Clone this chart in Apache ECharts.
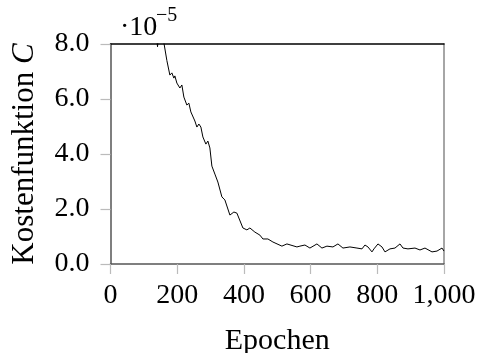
<!DOCTYPE html>
<html>
<head>
<meta charset="utf-8">
<script src="https://cdn.jsdelivr.net/npm/echarts@6/dist/echarts.min.js"></script>
<style>html,body{margin:0;padding:0;background:#fff}#c{width:477px;height:353px}</style>
</head>
<body>
<div id="c"></div>
<script>
// Epochs and cost values (in units of 1e-5)
const epochs = [0, 50, 100, 130, 138, 141, 144, 152, 160, 169, 178, 184, 190, 193, 199, 208, 214, 220, 229, 235, 241, 253, 259, 265, 271, 277, 286, 292, 298, 304, 313, 322, 334, 343, 358, 370, 379, 397, 409, 418, 433, 448, 457, 472, 487, 514, 529, 559, 568, 583, 598, 619, 634, 649, 667, 682, 697, 718, 739, 754, 763, 772, 784, 790, 802, 814, 823, 838, 853, 868, 877, 892, 913, 928, 943, 964, 979, 994, 1000];
const costs = [30, 20, 12, 9.0, 8.3, 7.9, 8.3, 8.4, 8.05, 7.4, 6.87, 6.95, 6.76, 6.84, 6.58, 6.4, 6.51, 6.07, 5.78, 5.85, 5.53, 5.2, 4.98, 5.09, 4.98, 4.62, 4.36, 4.47, 4.22, 3.56, 3.27, 2.98, 2.44, 2.33, 1.78, 1.89, 1.85, 1.31, 1.24, 1.31, 1.16, 1.05, 0.91, 0.91, 0.80, 0.65, 0.73, 0.62, 0.65, 0.69, 0.58, 0.73, 0.58, 0.65, 0.62, 0.73, 0.58, 0.62, 0.58, 0.55, 0.69, 0.62, 0.44, 0.55, 0.73, 0.62, 0.44, 0.55, 0.58, 0.73, 0.58, 0.55, 0.58, 0.51, 0.58, 0.44, 0.47, 0.58, 0.47];
const xTicks = [0, 200, 400, 600, 800, 1000];
const xTickLabels = ['0', '200', '400', '600', '800', '1,000'];
const yTickLabels = ['0.0', '2.0', '4.0', '6.0', '8.0'];

const FONT = '"Liberation Serif", "Times New Roman", serif';
const chart = echarts.init(document.getElementById('c'), null, {renderer: 'canvas'});
chart.setOption({
  animation: false,
  backgroundColor: '#fff',
  grid: {left: 110.5, right: 33, top: 44, bottom: 89, containLabel: false, outerBoundsMode: 'none'},
  graphic: [
    {type: 'text', left: 120, top: 14, style: {text: '·10', font: '28px ' + FONT, fill: '#000'}},
    {type: 'text', left: 156, top: 6, style: {text: '−5', font: '20px ' + FONT, fill: '#000'}}
  ],
  xAxis: [{
    type: 'value', min: 0, max: 1000, interval: 200,
    name: 'Epochen', nameLocation: 'middle', nameGap: 62,
    nameTextStyle: {fontFamily: FONT, fontSize: 30, color: '#000'},
    axisLine: {show: true, lineStyle: {color: '#555', width: 1.5}},
    axisTick: {show: true, inside: false, length: 10, lineStyle: {color: '#bbb', width: 1.2}},
    axisLabel: {show: true, margin: 18, fontFamily: FONT, fontSize: 28, color: '#000',
      formatter: v => { const i = xTicks.indexOf(v); return i >= 0 ? xTickLabels[i] : ''; }},
    splitLine: {show: false}
  }, {
    type: 'value', position: 'top', min: 0, max: 1000,
    axisLine: {show: true, onZero: false, lineStyle: {color: '#000', width: 1.5}},
    axisTick: {show: false}, axisLabel: {show: false}, splitLine: {show: false}
  }],
  yAxis: [{
    type: 'value', min: 0, max: 8, interval: 2,
    name: 'Kostenfunktion {i|C}', nameLocation: 'middle', nameGap: 70, nameRotate: 90,
    nameTextStyle: {fontFamily: FONT, fontSize: 31, color: '#000',
      rich: {i: {fontFamily: FONT, fontSize: 31, fontStyle: 'italic', color: '#000'}}},
    axisLine: {show: true, lineStyle: {color: '#555', width: 1.5}},
    axisTick: {show: true, inside: false, length: 10, lineStyle: {color: '#bbb', width: 1.2}},
    axisLabel: {show: true, margin: 21, fontFamily: FONT, fontSize: 28, color: '#000',
      formatter: v => yTickLabels[Math.round(v / 2)] || ''},
    splitLine: {show: false}
  }, {
    type: 'value', position: 'right', min: 0, max: 8,
    axisLine: {show: true, onZero: false, lineStyle: {color: '#888', width: 1.5}},
    axisTick: {show: false}, axisLabel: {show: false}, splitLine: {show: false}
  }],
  series: [{
    type: 'line', xAxisIndex: 0, yAxisIndex: 0,
    data: epochs.map((e, i) => [e, costs[i]]),
    showSymbol: false, symbol: 'none', clip: true,
    lineStyle: {color: '#000', width: 1}
  }]
});
</script>
</body>
</html>
